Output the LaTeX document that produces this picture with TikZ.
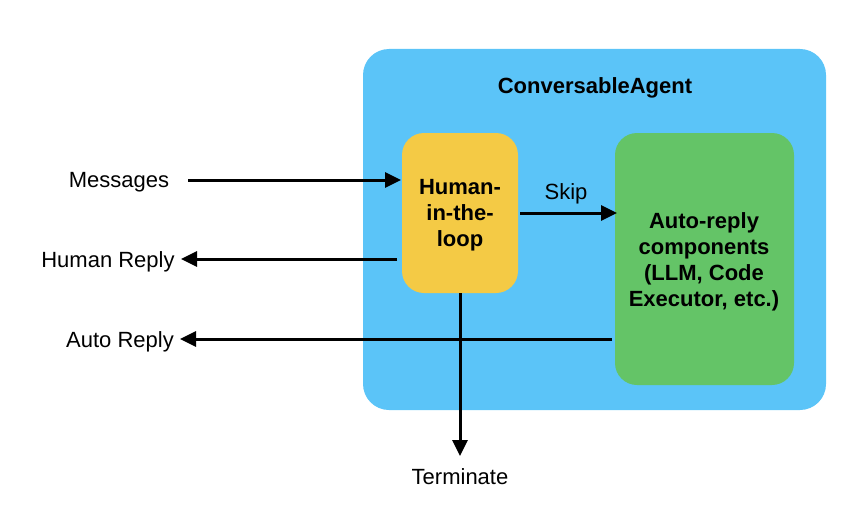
\documentclass[tikz,border=0pt]{standalone}
\usepackage{fontspec}
\setmainfont{Liberation Sans}
\usetikzlibrary{arrows.meta}
\definecolor{agentblue}{RGB}{91,196,248}
\definecolor{hilyellow}{RGB}{244,202,69}
\definecolor{autogreen}{RGB}{100,196,103}
\begin{document}
\begin{tikzpicture}[x=1pt,y=-1pt,
  lbl/.style={font=\fontsize{22}{26}\selectfont, inner sep=0pt},
  boxlbl/.style={font=\bfseries\fontsize{22}{26}\selectfont, align=center, inner sep=0pt},
  conn/.style={line width=3pt, -{Triangle[length=16pt,width=15pt]}}]
\useasboundingbox (0,0) rectangle (850,516);
\fill[agentblue, rounded corners=26pt] (363,49) rectangle (826,410);
\node[boxlbl] (title) at (595,88) {ConversableAgent};
\fill[hilyellow, rounded corners=22pt] (402,133) rectangle (518,293);
\node[boxlbl] (hil) at (460,215) {Human-\\in-the-\\loop};
\fill[autogreen, rounded corners=22pt] (615,133) rectangle (794,385);
\node[boxlbl] (auto) at (704,262) {Auto-reply\\components\\(LLM, Code\\Executor, etc.)};
\coordinate (hilB) at (460,293);

\node[lbl] (msg) at (119,182) {Messages};
\node[lbl] (hrep) at (108,262) {Human Reply};
\node[lbl] (arep) at (120,342) {Auto Reply};
\node[lbl] (term) at (460,477) {Terminate};
\node[lbl] (skip) at (566,194) {Skip};

\coordinate (msgS) at (188,180);
\coordinate (msgE) at (401,180);
\coordinate (hrS) at (397,259);
\coordinate (hrE) at (181,259);
\coordinate (arS) at (612,339);
\coordinate (arE) at (180,339);
\coordinate (skS) at (520,213);
\coordinate (skE) at (617,213);
\coordinate (tE) at (460,456);

\draw[conn] (msgS) -- (msgE);
\draw[conn] (hrS) -- (hrE);
\draw[conn] (arS) -- (arE);
\draw[conn] (skS) -- (skE);
\draw[conn] (hilB) -- (tE);
\end{tikzpicture}
\end{document}
